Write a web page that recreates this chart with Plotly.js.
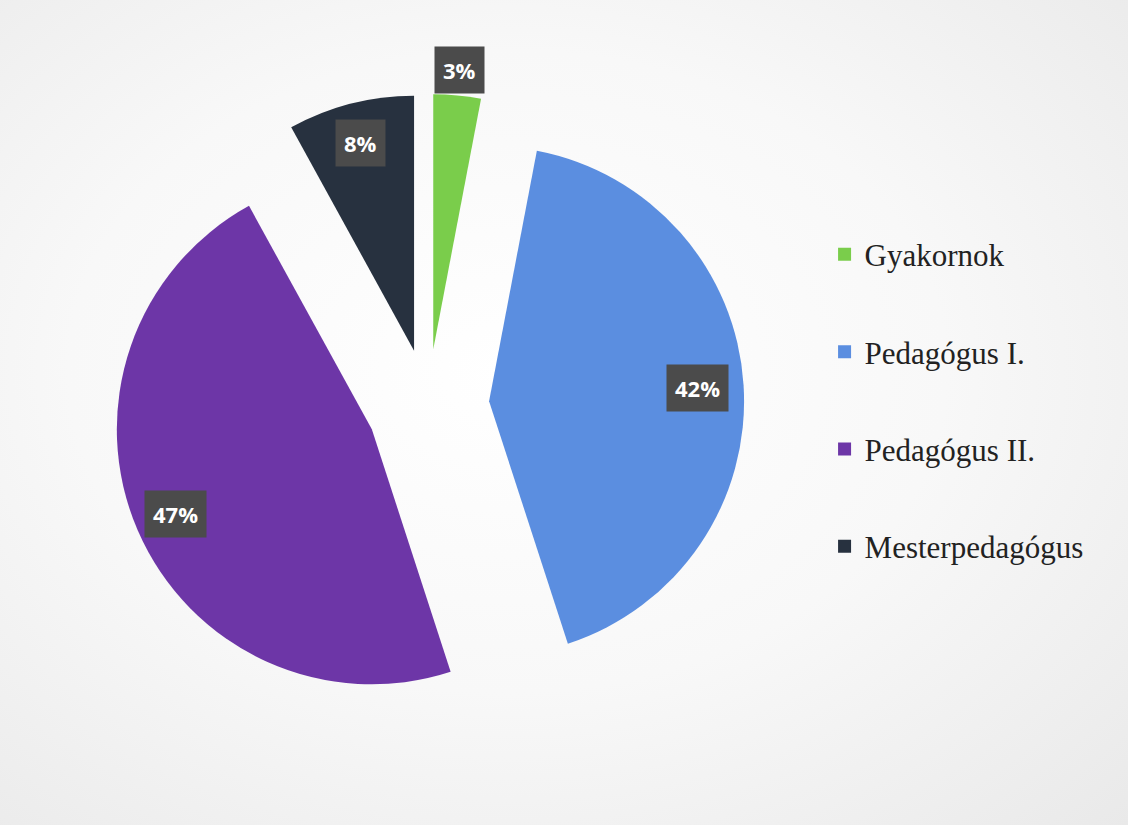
<!DOCTYPE html>
<html>
<head>
<meta charset="utf-8">
<script src="https://cdn.plot.ly/plotly-3.0.1.min.js"></script>
<style>
  html, body { margin: 0; padding: 0; }
  body { width: 1128px; height: 825px; overflow: hidden;
         background: radial-gradient(ellipse at 45% 45%, #ffffff 0%, #f8f8f8 50%, #e9e9e9 100%); }
  #chart { width: 1128px; height: 825px; }
</style>
</head>
<body>
<div id="chart"></div>
<script>
// ---- data ----
const categories = ["Gyakornok", "Pedagógus I.", "Pedagógus II.", "Mesterpedagógus"];
const values = [3, 42, 47, 8];
const percentLabels = ["3%", "42%", "47%", "8%"];

// ---- styles ----
const colors = ["#7acd4b", "#5b8ee0", "#6d36a7", "#27313f"];
const pulls = [0.22, 0.24, 0.24, 0.22];
const labelRadius = [1.10, 0.82, 0.84, 0.84]; // fraction of radius for label boxes

const W = 1128, H = 825;
const cx = 428, cy = 405, r = 255;
const maxPull = Math.max(...pulls);
const half = r * (1 + maxPull);
const domX = [(cx - half) / W, (cx + half) / W];
const domY = [1 - (cy + half) / H, 1 - (cy - half) / H];

const pieTrace = {
  type: "pie",
  labels: categories,
  values: values,
  sort: false,
  direction: "clockwise",
  rotation: 0,
  pull: pulls,
  marker: { colors: colors, line: { width: 0 } },
  textinfo: "none",
  hoverinfo: "label+percent",
  showlegend: false,
  domain: { x: domX, y: domY }
};

// legend entries (one per category) so the spacing can be set
const legendTraces = categories.map((c, i) => ({
  type: "scatter",
  x: [null], y: [null],
  mode: "markers",
  name: c,
  legendgroup: "g" + i,
  marker: { symbol: "square", size: 13, color: colors[i] },
  showlegend: true,
  hoverinfo: "skip"
}));

// label boxes placed from the data (cumulative angle of each slice)
const total = values.reduce((a, b) => a + b, 0);
let cum = 0;
const annotations = values.map((v, i) => {
  const mid = (cum + v / 2) / total * 2 * Math.PI;
  cum += v;
  const dx = Math.sin(mid), dy = -Math.cos(mid);
  const dist = r * (pulls[i] + labelRadius[i]);
  const px = cx + dx * dist, py = cy + dy * dist;
  return {
    xref: "paper", yref: "paper",
    x: px / W, y: 1 - py / H,
    xanchor: "center", yanchor: "middle",
    text: "<b>" + percentLabels[i] + "</b>",
    showarrow: false,
    font: { family: "Open Sans, Noto Sans, sans-serif", size: 22, color: "#ffffff" },
    bgcolor: "#4b4b4b",
    borderpad: 8
  };
});

const layout = {
  width: W, height: H,
  margin: { l: 0, r: 0, t: 0, b: 0 },
  paper_bgcolor: "rgba(0,0,0,0)",
  plot_bgcolor: "rgba(0,0,0,0)",
  xaxis: { visible: false, domain: [0.99, 1] },
  yaxis: { visible: false, domain: [0.99, 1] },
  showlegend: true,
  legend: {
    x: 0.731, y: 0.724, xanchor: "left", yanchor: "top",
    traceorder: "grouped",
    tracegroupgap: 54,
    font: { family: "Liberation Serif, Times New Roman, serif", size: 31, color: "#222222" },
    bgcolor: "rgba(0,0,0,0)"
  },
  annotations: annotations
};

Plotly.newPlot("chart", [pieTrace, ...legendTraces], layout, { displayModeBar: false, staticPlot: true });
</script>
</body>
</html>
